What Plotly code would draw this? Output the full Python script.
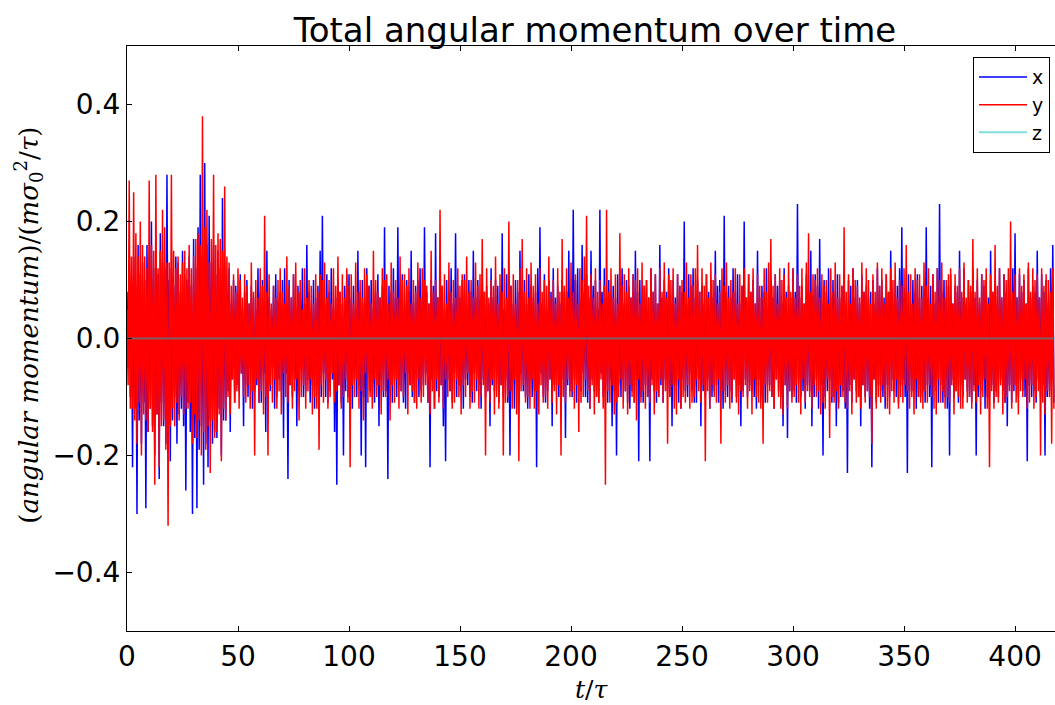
import plotly.graph_objects as go

# Sampling: upper excursions at t = i*T_STEP, lower excursions at t = (i+0.5)*T_STEP
T_STEP = 1.0

# x component (units of 0.01 m sigma0^2 / tau): upper and lower excursions
X_UP = [
    8, 12, 10, 14, 9, 16, 11, 13, 10, 16, 14, 20, 12, 15, 11, 18, 13, 12, 28, 10,
    12, 9, 14, 13, 8, 15, 11, 10, 14, 9, 17, 12, 19, 28, 14, 30, 16, 21, 13, 16,
    11, 15, 12, 24, 13, 8, 12, 6, 10, 9, 7, 11, 5, 8, 10, 6, 9, 7, 5, 12,
    8, 10, 5, 15, 7, 5, 9, 11, 6, 8, 10, 12, 5, 10, 7, 11, 5, 9, 8, 12,
    6, 16, 8, 5, 10, 7, 9, 15, 21, 6, 11, 8, 12, 5, 7, 10, 8, 6, 9, 11,
    11, 7, 9, 5, 15, 8, 10, 6, 12, 9, 10, 5, 8, 11, 7, 9, 19, 6, 9, 8,
    12, 7, 19, 9, 11, 5, 10, 8, 15, 6, 9, 10, 12, 7, 19, 8, 6, 10, 9, 18,
    7, 11, 9, 5, 10, 8, 12, 6, 18, 9, 7, 10, 11, 5, 10, 8, 15, 7, 10, 6,
    11, 8, 9, 6, 12, 7, 10, 9, 8, 18, 5, 11, 7, 9, 6, 10, 8, 15, 7, 10,
    6, 11, 9, 7, 8, 12, 19, 6, 11, 5, 10, 8, 12, 7, 9, 6, 10, 8, 8, 15,
    7, 22, 10, 12, 6, 16, 8, 11, 7, 15, 9, 10, 5, 22, 8, 12, 7, 10, 6, 9,
    7, 11, 8, 12, 6, 10, 9, 7, 11, 15, 8, 10, 6, 9, 10, 7, 12, 8, 11, 6,
    16, 7, 10, 8, 12, 6, 10, 7, 11, 9, 8, 20, 6, 11, 9, 12, 7, 10, 8, 9,
    6, 11, 8, 10, 7, 15, 9, 10, 5, 21, 8, 9, 7, 12, 8, 11, 6, 9, 20, 7,
    11, 8, 10, 6, 15, 7, 9, 8, 12, 5, 10, 7, 11, 9, 10, 6, 12, 8, 9, 7,
    12, 8, 23, 7, 9, 6, 11, 8, 15, 7, 11, 9, 17, 6, 10, 8, 12, 7, 10, 8,
    11, 7, 9, 8, 6, 10, 9, 12, 7, 10, 6, 11, 8, 9, 7, 8, 10, 6, 12, 9,
    10, 7, 11, 8, 15, 6, 10, 9, 12, 19, 7, 8, 11, 6, 10, 8, 11, 7, 9, 8,
    19, 7, 9, 11, 6, 12, 23, 8, 10, 7, 9, 11, 6, 9, 8, 15, 7, 12, 6, 10,
    8, 12, 7, 10, 6, 11, 9, 10, 7, 15, 8, 9, 6, 12, 7, 11, 8, 10, 7, 12,
    18, 7, 11, 8, 10, 6, 12, 7, 9, 8, 15, 7, 11, 8, 10, 6, 12, 16,
]
X_DN = [
    -5, -10, -22, -12, -30, -14, -18, -11, -29, -16, -12, -15, -20, -13, -24, -11, -15, -18, -12, -21,
    -14, -10, -18, -13, -12, -15, -26, -11, -16, -30, -17, -29, -19, -15, -25, -18, -22, -14, -18, -16,
    -17, -12, -20, -14, -14, -9, -16, -7, -11, -8, -9, -6, -15, -8, -10, -5, -12, -9, -8, -11,
    -11, -6, -16, -8, -9, -5, -12, -10, -7, -9, -17, -6, -24, -8, -10, -7, -15, -9, -5, -10,
    -9, -7, -11, -8, -12, -5, -8, -10, -6, -10, -11, -9, -7, -16, -25, -8, -11, -20, -9, -10,
    -11, -12, -7, -10, -8, -20, -10, -22, -6, -9, -10, -11, -8, -15, -7, -10, -9, -24, -8, -11,
    -7, -10, -8, -9, -11, -12, -6, -8, -10, -11, -7, -10, -9, -8, -6, -11, -22, -7, -12, -9,
    -10, -8, -15, -21, -7, -9, -11, -6, -10, -8, -9, -12, -7, -8, -10, -11, -6, -9, -8, -12,
    -7, -10, -9, -15, -8, -9, -6, -11, -8, -10, -7, -11, -20, -9, -12, -8, -11, -6, -9, -10,
    -12, -7, -10, -9, -22, -8, -6, -10, -11, -9, -7, -15, -8, -8, -10, -11, -7, -17, -8, -9,
    -10, -7, -11, -8, -9, -6, -10, -11, -12, -7, -9, -10, -11, -6, -10, -8, -11, -7, -15, -9,
    -20, -8, -10, -7, -9, -11, -12, -9, -11, -7, -21, -10, -11, -8, -10, -21, -7, -9, -11, -10,
    -8, -11, -7, -9, -10, -15, -8, -8, -11, -12, -7, -9, -10, -6, -9, -11, -11, -7, -15, -9,
    -10, -7, -12, -10, -9, -8, -11, -7, -12, -9, -10, -9, -11, -7, -10, -8, -15, -9, -7, -10,
    -8, -9, -10, -12, -7, -10, -9, -11, -8, -8, -10, -12, -7, -9, -10, -15, -8, -17, -9, -10,
    -9, -11, -7, -10, -9, -12, -8, -9, -15, -10, -7, -12, -8, -20, -10, -9, -7, -11, -10, -15,
    -11, -10, -9, -12, -23, -8, -11, -7, -9, -10, -15, -8, -10, -9, -12, -22, -7, -11, -8, -9,
    -10, -12, -8, -10, -7, -9, -10, -11, -8, -7, -10, -23, -9, -9, -8, -12, -10, -10, -9, -11,
    -8, -10, -22, -7, -9, -11, -8, -11, -10, -12, -20, -7, -10, -9, -11, -8, -10, -7, -9, -10,
    -11, -8, -20, -10, -9, -7, -12, -10, -10, -8, -11, -9, -10, -7, -9, -11, -15, -8, -11, -9,
    -8, -10, -7, -9, -10, -21, -8, -10, -9, -11, -7, -10, -8, -20, -10, -9, -7, -11,
]

# y component: upper and lower excursions
Y_UP = [
    5, 27, 14, 25, 18, 14, 20, 16, 14, 12, 27, 16, 15, 28, 12, 15, 22, 19, 13, 13,
    28, 15, 12, 14, 11, 13, 15, 12, 16, 12, 14, 17, 18, 16, 38, 19, 22, 13, 17, 28,
    16, 18, 17, 15, 26, 14, 13, 9, 11, 8, 12, 10, 7, 11, 9, 6, 13, 8, 10, 7,
    12, 9, 21, 8, 11, 6, 9, 7, 10, 12, 8, 6, 14, 9, 7, 11, 13, 8, 10, 5,
    12, 7, 10, 9, 6, 11, 8, 11, 10, 13, 7, 10, 6, 12, 9, 14, 8, 11, 7, 12,
    9, 11, 6, 13, 8, 10, 7, 12, 11, 9, 6, 15, 10, 8, 7, 12, 10, 11, 6, 13,
    8, 10, 7, 14, 10, 11, 9, 12, 6, 10, 8, 13, 7, 12, 10, 9, 6, 15, 8, 10,
    7, 22, 9, 11, 6, 13, 8, 10, 7, 12, 9, 11, 10, 14, 8, 10, 7, 13, 9, 11,
    17, 8, 12, 7, 10, 9, 14, 6, 11, 8, 12, 7, 20, 9, 11, 6, 10, 12, 17, 8,
    12, 7, 13, 9, 11, 6, 12, 8, 10, 9, 14, 7, 10, 6, 12, 8, 17, 9, 12, 7,
    13, 8, 11, 6, 12, 10, 14, 21, 9, 11, 7, 12, 8, 10, 6, 9, 22, 8, 12, 7,
    11, 6, 18, 9, 11, 8, 12, 7, 11, 10, 12, 6, 13, 9, 10, 7, 12, 8, 11, 6,
    12, 8, 13, 7, 11, 10, 12, 6, 11, 9, 10, 8, 13, 7, 11, 9, 12, 16, 8, 12,
    9, 11, 7, 13, 10, 11, 6, 8, 12, 9, 13, 7, 10, 8, 12, 6, 11, 9, 12, 7,
    11, 8, 12, 6, 11, 9, 7, 12, 8, 13, 17, 9, 11, 6, 12, 10, 11, 7, 13, 8,
    12, 7, 11, 9, 12, 6, 13, 18, 8, 11, 10, 12, 7, 11, 9, 10, 6, 12, 8, 13,
    7, 11, 9, 19, 8, 11, 6, 12, 10, 9, 7, 13, 8, 12, 10, 6, 11, 8, 13, 9,
    12, 6, 11, 8, 12, 10, 13, 7, 10, 9, 12, 16, 8, 11, 6, 12, 10, 11, 7, 13,
    9, 12, 6, 11, 8, 12, 10, 13, 7, 10, 11, 12, 6, 11, 9, 12, 8, 13, 7, 10,
    9, 17, 8, 12, 7, 11, 10, 12, 6, 11, 8, 16, 9, 12, 7, 11, 10, 12, 20, 8,
    11, 7, 12, 9, 11, 6, 13, 8, 12, 10, 11, 7, 12, 9, 11, 10, 8, 12,
]
Y_DN = [
    -8, -12, -12, -14, -18, -11, -20, -13, -14, -16, -12, -16, -25, -13, -22, -15, -14, -19, -32, -15,
    -12, -15, -11, -14, -10, -13, -12, -12, -11, -18, -13, -17, -14, -20, -16, -19, -15, -23, -14, -17,
    -16, -13, -21, -12, -14, -10, -13, -7, -11, -9, -12, -6, -10, -11, -8, -12, -9, -20, -7, -11,
    -9, -13, -10, -20, -8, -11, -7, -12, -9, -13, -6, -10, -11, -8, -12, -9, -7, -14, -10, -8,
    -12, -9, -7, -13, -10, -12, -19, -8, -11, -7, -12, -10, -6, -11, -9, -8, -12, -10, -7, -11,
    -22, -8, -10, -7, -12, -9, -14, -6, -11, -10, -12, -7, -10, -8, -13, -9, -10, -7, -14, -8,
    -11, -7, -12, -9, -10, -6, -13, -8, -9, -11, -12, -7, -11, -10, -8, -11, -13, -9, -12, -7,
    -11, -8, -12, -7, -10, -9, -12, -11, -7, -10, -13, -8, -10, -6, -12, -9, -11, -7, -12, -10,
    -8, -20, -9, -11, -7, -13, -10, -12, -8, -20, -11, -10, -9, -12, -7, -13, -21, -9, -8, -11,
    -10, -12, -7, -12, -9, -13, -8, -11, -10, -12, -7, -11, -9, -13, -8, -20, -10, -11, -7, -10,
    -9, -12, -8, -16, -11, -10, -7, -9, -12, -8, -13, -10, -11, -7, -12, -25, -9, -11, -8, -13,
    -11, -10, -7, -12, -9, -13, -8, -10, -11, -14, -7, -11, -9, -12, -10, -11, -8, -13, -9, -10,
    -7, -11, -9, -18, -10, -8, -12, -13, -7, -12, -10, -11, -8, -12, -11, -10, -7, -9, -11, -8,
    -21, -9, -12, -8, -10, -11, -7, -18, -9, -11, -8, -12, -10, -7, -11, -13, -9, -10, -8, -12,
    -9, -13, -7, -10, -11, -12, -18, -8, -11, -9, -10, -12, -7, -10, -12, -13, -8, -12, -9, -11,
    -10, -8, -11, -13, -7, -11, -9, -10, -12, -8, -10, -9, -13, -11, -12, -7, -17, -10, -11, -9,
    -12, -8, -10, -11, -12, -9, -13, -7, -11, -10, -12, -8, -11, -9, -10, -18, -7, -12, -10, -11,
    -8, -10, -12, -13, -9, -11, -7, -12, -10, -11, -8, -9, -12, -10, -13, -7, -10, -11, -12, -9,
    -11, -8, -10, -12, -13, -7, -11, -9, -12, -10, -11, -8, -13, -9, -10, -12, -12, -7, -11, -10,
    -12, -9, -11, -8, -13, -10, -7, -12, -22, -9, -12, -10, -11, -8, -13, -11, -10, -9, -12, -8,
    -11, -13, -9, -10, -7, -12, -11, -8, -12, -10, -9, -20, -11, -13, -9, -10, -18, -12,
]

# z component (stays at zero)
Z_VALS = [0, 0]
Z_TIMES = [0, 418]

X_RANGE = [0, 418]
Y_RANGE = [-0.5, 0.5]
X_TICKS = [0, 50, 100, 150, 200, 250, 300, 350, 400]
Y_TICKS = [-0.4, -0.2, 0.0, 0.2, 0.4]


def series(up, dn):
    t, v = [], []
    for i, (a, b) in enumerate(zip(up, dn)):
        t += [i * T_STEP, (i + 0.5) * T_STEP]
        v += [a / 100, b / 100]
    return t, v


tx, xv = series(X_UP, X_DN)
ty, yv = series(Y_UP, Y_DN)

fig = go.Figure()
fig.add_trace(go.Scatter(x=tx, y=xv, mode="lines", name="x",
                         line=dict(color="#0000ff", width=1.5, simplify=False)))
fig.add_trace(go.Scatter(x=ty, y=yv, mode="lines", name="y",
                         line=dict(color="#ff0000", width=1.5, simplify=False)))
fig.add_trace(go.Scatter(x=Z_TIMES, y=Z_VALS, mode="lines", name="z",
                         line=dict(color="#00bfbf", width=2, simplify=False), opacity=0.5))

fig.update_layout(
    width=1055, height=705,
    margin=dict(l=127, r=0, t=46, b=74),
    paper_bgcolor="white", plot_bgcolor="white",
    font=dict(family="DejaVu Sans", size=28, color="black"),
    title=dict(text="Total angular momentum over time", x=0.564, xanchor="center",
               y=0.958, yanchor="middle", font=dict(size=34)),
    showlegend=True,
    legend=dict(x=0.9946, y=0.981, xanchor="right", yanchor="top",
                bgcolor="white", bordercolor="black", borderwidth=1,
                font=dict(size=19), itemwidth=48, tracegroupgap=0),
    annotations=[
        dict(text="(<i>angular momentum</i>)/(<i>mσ</i><sub>0</sub><sup>2</sup>/<i>τ</i>)",
             xref="paper", yref="paper", x=-0.107, y=0.523, xanchor="center", yanchor="middle",
             textangle=-90, showarrow=False,
             font=dict(family="DejaVu Serif", size=26)),
        dict(text="<i>t</i>/<i>τ</i>", xref="paper", yref="paper", x=0.5, y=-0.1,
             xanchor="center", yanchor="middle", showarrow=False,
             font=dict(family="DejaVu Serif", size=25)),
    ],
)
fig.update_xaxes(range=X_RANGE, tickvals=X_TICKS, ticks="inside", ticklen=5,
                 showgrid=False, zeroline=False, showline=True, linecolor="black",
                 linewidth=1, mirror="ticks", tickcolor="black")
fig.update_yaxes(range=Y_RANGE, tickvals=Y_TICKS, tickformat=".1f", ticks="inside",
                 ticklen=5, showgrid=False, zeroline=False, showline=True,
                 linecolor="black", linewidth=1, mirror=False, tickcolor="black")

fig.write_html("out.html")
